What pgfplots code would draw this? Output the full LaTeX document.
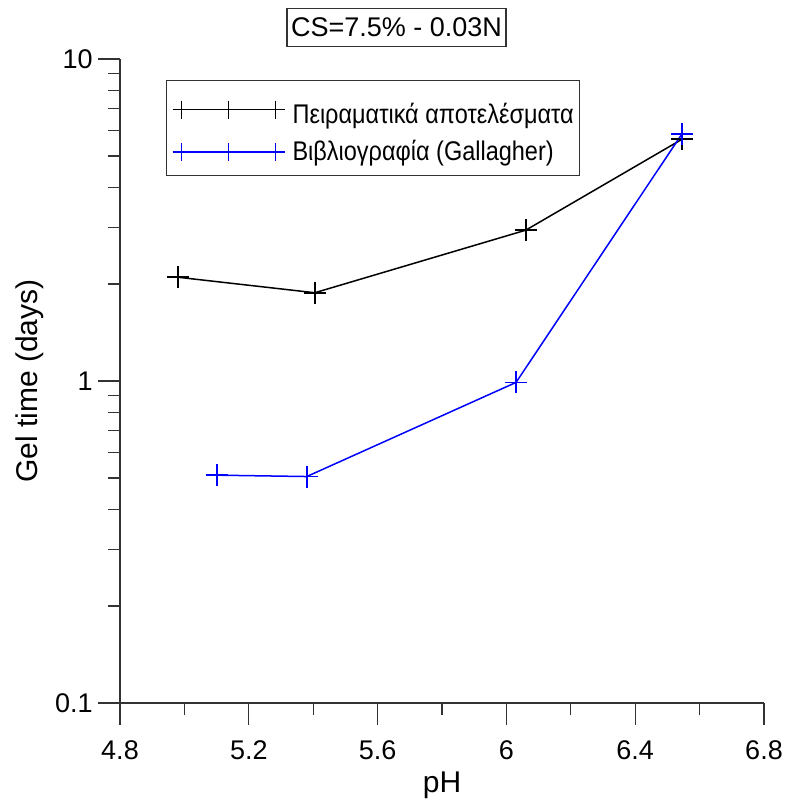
\documentclass[border=0pt]{standalone}
\usepackage{fontspec}
\setmainfont{Liberation Sans}
\newfontfamily\legfont[FakeStretch=0.87]{Liberation Sans}
\usepackage{pgfplots}
\pgfplotsset{compat=1.18}
\begin{document}
\fontsize{13.5}{16}\selectfont
\begin{tikzpicture}
\begin{axis}[
  name=ax,
  scale only axis, width=322pt, height=322pt,
  xmin=4.8, xmax=6.8, ymin=0.1, ymax=10, ymode=log,
  axis lines*=left, tick pos=left,
  axis line style={black!80, line width=0.6pt},
  xtick={4.8,5.2,5.6,6.0,6.4,6.8}, xticklabels={4.8,5.2,5.6,6,6.4,6.8},
  minor xtick={5.0,5.4,5.8,6.2,6.6},
  ytick={0.1,1,10}, yticklabels={0.1,1,10},
  minor ytick={0.2,0.3,0.4,0.5,0.6,0.7,0.8,0.9,2,3,4,5,6,7,8,9},
  tick align=outside, major tick length=11pt, minor tick length=6pt,
  every tick/.style={black!80, line width=0.6pt},
  tick label style={font=\fontsize{13.5}{16}\selectfont},
  xticklabel style={yshift=-3pt},
  yticklabel style={xshift=2pt},
  label style={font=\fontsize{15}{18}\selectfont},
  xlabel={pH}, ylabel={Gel time (days)},
  xlabel style={at={(axis description cs:0.5,-0.1273)}, anchor=center},
  ylabel style={at={(axis description cs:-0.1398,0.5)}, anchor=center},
  legend cell align=left,
  legend style={at={(axis description cs:0.0714,0.9674)}, anchor=north west,
    draw=black!80, line width=0.6pt, inner xsep=3pt, inner ysep=2.5pt,
    row sep=0pt, column sep=4pt,
    nodes={inner sep=0pt, text depth=5pt},
    font=\legfont\fontsize{13.5}{16}\selectfont},
  legend image code/.code={\draw[#1, mark size=4.5pt] plot coordinates {(0pt,0pt) (23.5pt,0pt) (47pt,0pt)};},
]
\addplot[black, line width=0.75pt, mark=+, mark size=5.5pt, mark options={line width=0.9pt}]
  coordinates {(4.98,2.10) (5.405,1.88) (6.06,2.94) (6.545,5.63)};
\addlegendentry{\rule{0pt}{19pt}Πειραματικά αποτελέσματα}
\addplot[blue, line width=0.75pt, mark=+, mark size=5.5pt, mark options={line width=0.9pt}]
  coordinates {(5.10,0.51) (5.38,0.505) (6.03,0.99) (6.545,5.85)};
\addlegendentry{\rule{0pt}{13.5pt}Βιβλιογραφία (Gallagher)}
\end{axis}
\node[draw=black!80, line width=0.6pt, inner xsep=2pt, inner ysep=4.75pt,
  font=\fontsize{13.5}{16}\selectfont] at ([xshift=138.25pt,yshift=337.75pt]ax.south west) {CS=7.5\% - 0.03N};
\pgfresetboundingbox
\path ([xshift=-60pt,yshift=-49pt]ax.south west) rectangle ++(392.5pt,400.5pt);
\end{tikzpicture}
\end{document}
